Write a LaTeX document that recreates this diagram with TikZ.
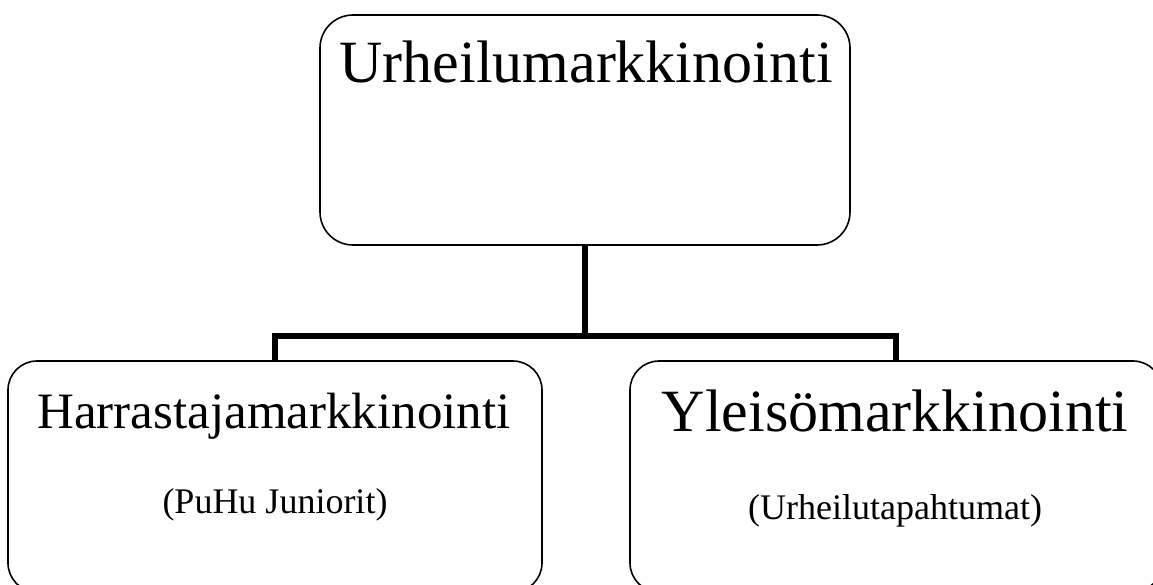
\documentclass[tikz,border=0pt]{standalone}
\usepackage{fontspec}
\setmainfont{Liberation Serif}
\begin{document}
\begin{tikzpicture}[x=1pt,y=-1pt,
  box/.style={draw, line width=1.6pt, rounded corners=29pt, inner sep=0pt, fill=white},
  conn/.style={line width=6pt, line join=miter},
  big/.style={anchor=base, inner sep=0pt, font=\fontsize{60}{72}\selectfont},
  mid/.style={anchor=base, inner sep=0pt, font=\fontsize{51}{60}\selectfont},
  small/.style={anchor=base, inner sep=0pt, font=\fontsize{36}{42}\selectfont}]
\useasboundingbox (0,0) rectangle (1153,585);
\node[box, minimum width=530pt, minimum height=230pt, rounded corners=33pt] (top) at (585,130) {};
\node[box, minimum width=534pt, minimum height=231pt] (left) at (275,476.5) {};
\node[box, minimum width=532pt, minimum height=231pt] (right) at (896,476.5) {};
\coordinate (j) at (585,336);
\draw[conn] (top.south) -- (j);
\draw[conn] (left.north) |- (j) -| (right.north);
\node[big] (toptext) at (586,83) {Urheilumarkkinointi};
\node[mid] (lefttext) at (274,428) {Harrastajamarkkinointi};
\node[small] (leftsub) at (275,513) {(PuHu Juniorit)};
\node[big] (righttext) at (895,431) {Yleisömarkkinointi};
\node[small] (rightsub) at (895,519) {(Urheilutapahtumat)};
\end{tikzpicture}
\end{document}
